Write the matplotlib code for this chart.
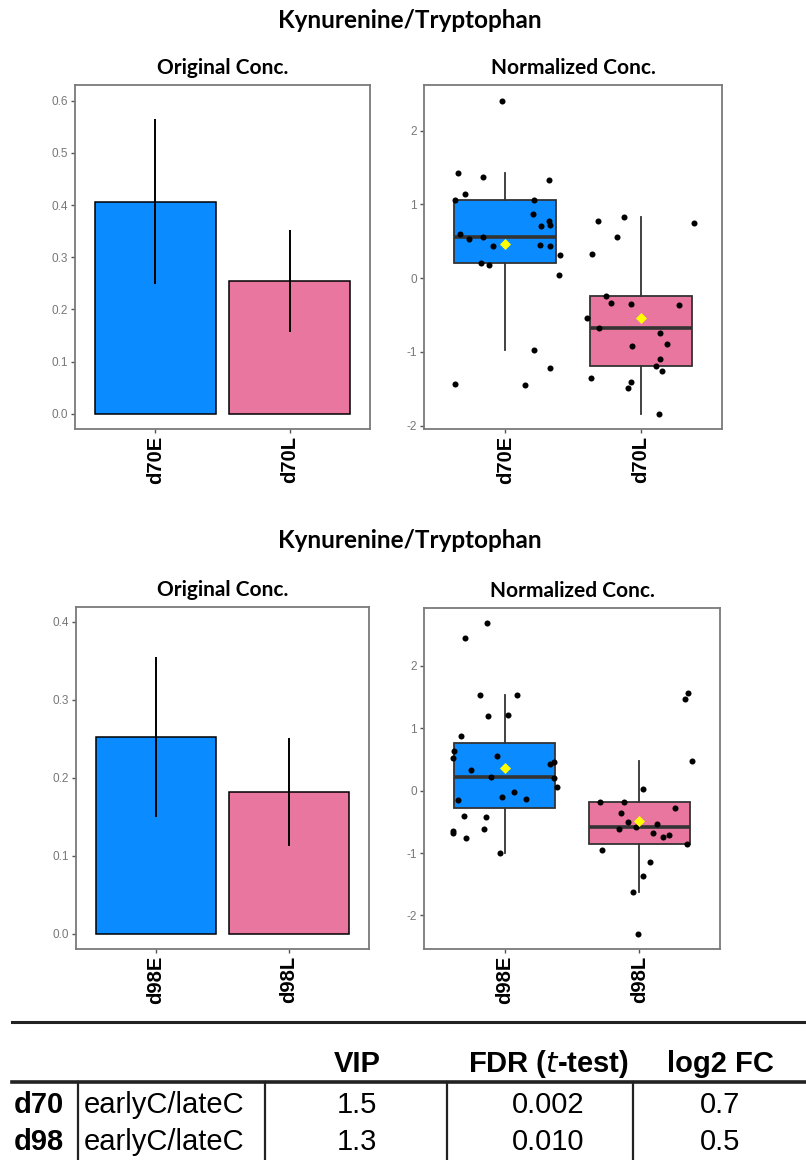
import numpy as np
import matplotlib
matplotlib.use('Agg')
import matplotlib.pyplot as plt
from matplotlib.lines import Line2D

W, H = 806, 1160

# group labels and colours
groups_d70 = ['d70E', 'd70L']
groups_d98 = ['d98E', 'd98L']
fill_colors = ['#0A8BFF', '#E8769E']

# original concentrations: mean and sd
orig_mean_d70 = [0.406, 0.254]
orig_sd_d70 = [0.158, 0.098]
orig_mean_d98 = [0.252, 0.182]
orig_sd_d98 = [0.103, 0.069]

# normalized concentrations (one value per sample) and horizontal jitter
norm_d70E = [2.405, 1.419, 1.374, 1.324, 1.139, 1.058, 1.058, 0.872, 0.777, 0.710,
             0.723, 0.601, 0.524, 0.556, 0.434, 0.447, 0.434, 0.312, 0.203, 0.176,
             0.036, -0.981, -1.225, -1.437, -1.451]
jit_d70E = [-0.024, -0.347, -0.165, 0.325, -0.298, -0.374, 0.209, 0.204, 0.325, 0.261,
            0.330, -0.332, -0.271, -0.165, -0.094, 0.256, 0.332, 0.401, -0.180, -0.118,
            0.396, 0.209, 0.332, -0.369, 0.145]
norm_d70L = [0.768, 0.827, 0.746, 0.560, 0.321, -0.244, -0.334, -0.348, -0.366, -0.538,
             -0.678, -0.750, -0.890, -0.922, -1.094, -1.189, -1.261, -1.360, -1.406, -1.496,
             -1.840]
jit_d70L = [-0.317, -0.125, 0.393, -0.175, -0.359, -0.254, -0.219, -0.069, 0.283, -0.399,
            -0.308, 0.145, 0.196, -0.066, 0.145, 0.113, 0.155, -0.365, -0.074, -0.092,
            0.135]
norm_d98E = [2.693, 2.443, 1.541, 1.531, 1.189, 1.211, 0.875, 0.640, 0.528, 0.555,
             0.336, 0.432, 0.453, 0.219, 0.203, 0.053, -0.016, -0.096, -0.144, -0.139,
             -0.400, -0.427, -0.613, -0.640, -0.677, -0.763, -1.003]
jit_d98E = [-0.134, -0.295, -0.183, 0.094, -0.124, 0.022, -0.325, -0.379, -0.384, -0.057,
            -0.250, 0.337, 0.364, -0.102, 0.369, 0.389, 0.067, -0.020, -0.347, 0.156,
            -0.305, -0.141, -0.151, -0.384, -0.382, -0.290, -0.037]
norm_d98L = [1.573, 1.477, 0.469, 0.021, -0.181, -0.176, -0.283, -0.357, -0.501, -0.576,
             -0.539, -0.613, -0.672, -0.704, -0.741, -0.859, -0.955, -1.141, -1.376, -1.632,
             -2.293]
jit_d98L = [0.363, 0.338, 0.392, 0.028, -0.292, -0.116, 0.268, -0.133, -0.086, -0.027,
            0.130, -0.153, 0.100, 0.219, 0.179, 0.355, -0.277, 0.083, 0.028, -0.046,
            -0.007]

# summary table
tab_day = ['d70', 'd98']
tab_comp = ['earlyC/lateC', 'earlyC/lateC']
tab_vip = ['1.5', '1.3']
tab_fdr = ['0.002', '0.010']
tab_fc = ['0.7', '0.5']

title_font = ['Lato', 'DejaVu Sans']
axis_font = ['Liberation Sans', 'DejaVu Sans']
frame_col = '#7a7a7a'


def rect(l, t, r, b):
    return [l / W, 1 - b / H, (r - l) / W, (b - t) / H]


def style_axes(ax, labels, ylim, yticks, yfmt):
    ax.set_xlim(0.4, 2.6)
    ax.set_ylim(*ylim)
    ax.set_xticks([1, 2])
    ax.set_xticklabels(labels, rotation=90, fontsize=14.5, fontweight='bold',
                       family=axis_font, color='black')
    ax.set_yticks(yticks)
    ax.set_yticklabels([yfmt.format(v) for v in yticks], fontsize=8.5,
                       family=axis_font, color='#777777')
    ax.tick_params(axis='both', length=3, width=1, color='#555555', pad=2)
    for s in ax.spines.values():
        s.set_color(frame_col)
        s.set_linewidth(1.3)


def bar_panel(box, labels, means, sds, ylim, yticks):
    ax = fig.add_axes(rect(*box))
    x = np.arange(1, len(means) + 1)
    ax.bar(x, means, width=0.9, color=fill_colors, edgecolor='black', linewidth=1.1,
           zorder=2)
    ax.errorbar(x, means, yerr=sds, fmt='none', ecolor='black', elinewidth=1.4,
                capsize=0, zorder=3)
    style_axes(ax, labels, ylim, yticks, '{:.1f}')
    ax.set_title('Original Conc.', fontsize=15, fontweight='bold', family=title_font,
                 pad=8)
    return ax


def box_panel(box, labels, samples, jitters, ylim, yticks):
    ax = fig.add_axes(rect(*box))
    pos = [1, 2]
    bp = ax.boxplot(samples, positions=pos, widths=0.75, patch_artist=True,
                    showfliers=False, showcaps=False, whis=1.5,
                    medianprops=dict(color='#333333', linewidth=2.6),
                    boxprops=dict(edgecolor='#333333', linewidth=1.3),
                    whiskerprops=dict(color='#333333', linewidth=1.3))
    for patch, c in zip(bp['boxes'], fill_colors):
        patch.set_facecolor(c)
    for p, vals, jit in zip(pos, samples, jitters):
        ax.scatter(p + np.array(jit), vals, s=19, color='black', zorder=4,
                   linewidths=0)
    ax.scatter(pos, [np.mean(v) for v in samples], marker='D', s=32, color='#FFFF00',
               zorder=5, linewidths=0)
    style_axes(ax, labels, ylim, yticks, '{:g}')
    ax.set_title('Normalized Conc.', fontsize=15, fontweight='bold', family=title_font,
                 pad=8)
    return ax


fig = plt.figure(figsize=(W / 100, H / 100), dpi=100)

# d70 block
fig.text(410 / W, 1 - 20 / H, 'Kynurenine/Tryptophan', ha='center', va='center',
         fontsize=17.5, fontweight='bold', family=title_font)
bar_panel((75, 85, 370, 429), groups_d70, orig_mean_d70, orig_sd_d70,
          (-0.029, 0.630), [0, 0.1, 0.2, 0.3, 0.4, 0.5, 0.6])
box_panel((424, 85, 722, 429), groups_d70, [norm_d70E, norm_d70L],
          [jit_d70E, jit_d70L], (-2.047, 2.617), [-2, -1, 0, 1, 2])

# d98 block
fig.text(410 / W, 1 - 541 / H, 'Kynurenine/Tryptophan', ha='center', va='center',
         fontsize=17.5, fontweight='bold', family=title_font)
bar_panel((76, 607, 369, 949), groups_d98, orig_mean_d98, orig_sd_d98,
          (-0.0197, 0.419), [0, 0.1, 0.2, 0.3, 0.4])
box_panel((424, 608, 720, 949), groups_d98, [norm_d98E, norm_d98L],
          [jit_d98E, jit_d98L], (-2.539, 2.928), [-2, -1, 0, 1, 2])

# summary table drawn in pixel coordinates
tax = fig.add_axes([0, 0, 1, 1], zorder=-1)
tax.set_xlim(0, W)
tax.set_ylim(H, 0)
tax.axis('off')
tax.add_line(Line2D([12, W], [1022, 1022], color='#222222', linewidth=2.2))
tax.add_line(Line2D([12, W], [1082, 1082], color='#222222', linewidth=2.6))
for xv in [78, 265, 447, 633]:
    tax.add_line(Line2D([xv, xv], [1082, H], color='#222222', linewidth=1.6))

cell_font = dict(family=axis_font, fontsize=21, va='center')
tax.text(357, 1064, 'VIP', ha='center', fontweight='bold', **cell_font)
tax.text(548, 1064, r'FDR ($\mathbf{\mathit{t}}$-test)', ha='center', fontweight='bold',
         **cell_font)
tax.text(720, 1064, 'log2 FC', ha='center', fontweight='bold', **cell_font)
for i, yv in enumerate([1105, 1142]):
    tax.text(14, yv, tab_day[i], ha='left', fontweight='bold', **cell_font)
    tax.text(84, yv, tab_comp[i], ha='left', **cell_font)
    tax.text(357, yv, tab_vip[i], ha='center', **cell_font)
    tax.text(548, yv, tab_fdr[i], ha='center', **cell_font)
    tax.text(720, yv, tab_fc[i], ha='center', **cell_font)

fig.savefig('out.png', dpi=100)
